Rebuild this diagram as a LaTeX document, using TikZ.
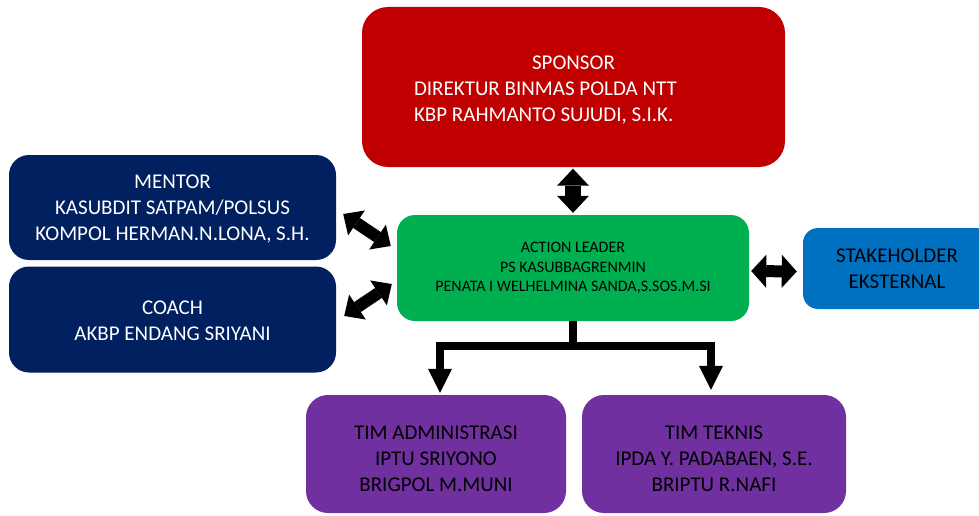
\documentclass[tikz,border=0pt]{standalone}
\usepackage{fontspec}
\setmainfont{Carlito}
\usetikzlibrary{arrows.meta}
\definecolor{cred}{HTML}{C00000}
\definecolor{cnavy}{HTML}{002060}
\definecolor{cgreen}{HTML}{00B050}
\definecolor{cblue}{HTML}{0070C0}
\definecolor{cpurple}{HTML}{7030A0}
\begin{document}
\begin{tikzpicture}[x=1pt,y=-1pt,
  box/.style={rounded corners=#1, inner sep=0pt, align=center, draw=none,
    font=\fontsize{21}{26}\selectfont},
  box/.default=20pt,
  dblarrow/.style n args={3}{draw=black, line width=#1,
    >={Triangle[width=#2,length=#3,line width=0pt]}, <->},
  treeline/.style={draw=black, line width=8pt},
  treetip/.style={>={Triangle[width=24pt,length=24pt,line width=0pt]}, ->}
]
\useasboundingbox (0,0) rectangle (979,516);

% boxes
\node[box=26pt, fill=cred, text=white, minimum width=423pt, minimum height=160pt,
      text width=319pt, align=flush left] (sponsor) at (573.5,87)
  {\hspace*{118pt}\rule{0pt}{20pt}SPONSOR\\DIREKTUR BINMAS POLDA NTT\\KBP RAHMANTO SUJUDI, S.I.K.};
\node[box=20pt, fill=cnavy, text=white, minimum width=327pt, minimum height=105pt]
  (mentor) at (172.5,207.5)
  {\rule{0pt}{17pt}MENTOR\\KASUBDIT SATPAM/POLSUS\\KOMPOL HERMAN.N.LONA, S.H.};
\node[box=20pt, fill=cnavy, text=white, minimum width=327pt, minimum height=106pt]
  (coach) at (172.5,319.5)
  {\rule{0pt}{17pt}COACH\\AKBP ENDANG SRIYANI};
\node[box=18pt, fill=cgreen, text=black, minimum width=352pt, minimum height=106pt,
      font=\fontsize{16}{19.5}\selectfont]
  (leader) at (573,268)
  {ACTION LEADER\\PS KASUBBAGRENMIN\\PENATA I WELHELMINA SANDA,S.SOS.M.SI};
\node[box=15pt, fill=cblue, text=black, minimum width=188pt, minimum height=81pt]
  (stake) at (897,268.5)
  {STAKEHOLDER\\EKSTERNAL};
\node[box=22pt, fill=cpurple, text=black, minimum width=260pt, minimum height=118pt]
  (tima) at (436,454)
  {\rule{0pt}{23pt}TIM ADMINISTRASI\\IPTU SRIYONO\\BRIGPOL M.MUNI};
\node[box=22pt, fill=cpurple, text=black, minimum width=264pt, minimum height=118pt]
  (timt) at (714,454)
  {\rule{0pt}{23pt}TIM TEKNIS\\IPDA Y. PADABAEN, S.E.\\BRIPTU R.NAFI};

% double block arrows
\draw[dblarrow={16pt}{32pt}{17pt}]
  ([shift={(0,1.5)}]sponsor.south -| leader.north) -- ([shift={(0,-2)}]leader.north);
\draw[dblarrow={12pt}{30pt}{16pt}]
  ([shift={(7,6.5)}]mentor.east) -- ([shift={(-6,-22)}]leader.west);
\draw[dblarrow={12pt}{30pt}{16pt}]
  ([shift={(8,-3.5)}]coach.east) -- ([shift={(-5,16)}]leader.west);
\draw[dblarrow={12pt}{33pt}{15pt}]
  ([shift={(2,3)}]leader.east) -- ([shift={(-6,3)}]stake.west);

% tree connector
\coordinate (bar) at (573,346);
\draw[treeline] (leader.south) -- (bar);
\draw[treeline, treetip] (bar) -| ([shift={(4,-2)}]tima.north);
\draw[treeline, treetip] (bar) -| ([shift={(-3,-5)}]timt.north);
\end{tikzpicture}
\end{document}
